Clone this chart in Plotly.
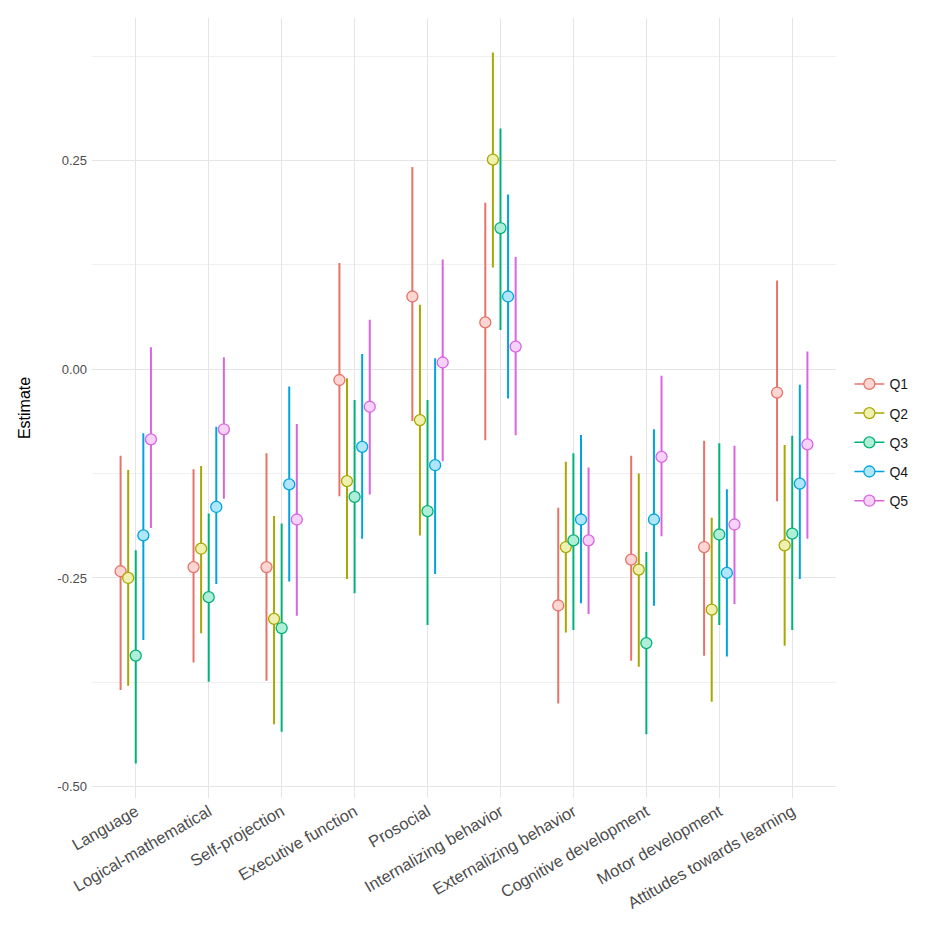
import plotly.graph_objects as go

categories = ["Language", "Logical-mathematical", "Self-projection", "Executive function",
              "Prosocial", "Internalizing behavior", "Externalizing behavior",
              "Cognitive development", "Motor development", "Attitudes towards learning"]
groups = ["Q1", "Q2", "Q3", "Q4", "Q5"]

est_q1 = [-0.242, -0.237, -0.237, -0.013, 0.087, 0.056, -0.283, -0.228, -0.213, -0.028]
lo_q1 = [-0.383, -0.350, -0.372, -0.151, -0.061, -0.084, -0.399, -0.348, -0.342, -0.157]
hi_q1 = [-0.105, -0.121, -0.102, 0.126, 0.241, 0.198, -0.167, -0.105, -0.087, 0.105]

est_q2 = [-0.250, -0.215, -0.299, -0.134, -0.061, 0.251, -0.213, -0.240, -0.288, -0.211]
lo_q2 = [-0.378, -0.315, -0.424, -0.250, -0.198, 0.123, -0.314, -0.355, -0.397, -0.330]
hi_q2 = [-0.122, -0.117, -0.177, -0.012, 0.076, 0.378, -0.112, -0.126, -0.179, -0.092]

est_q3 = [-0.343, -0.273, -0.310, -0.153, -0.170, 0.169, -0.205, -0.328, -0.198, -0.197]
lo_q3 = [-0.471, -0.373, -0.433, -0.267, -0.305, 0.048, -0.311, -0.436, -0.305, -0.311]
hi_q3 = [-0.218, -0.174, -0.186, -0.038, -0.038, 0.287, -0.102, -0.220, -0.090, -0.081]

est_q4 = [-0.199, -0.165, -0.138, -0.093, -0.115, 0.087, -0.180, -0.180, -0.244, -0.137]
lo_q4 = [-0.323, -0.256, -0.253, -0.202, -0.244, -0.034, -0.279, -0.282, -0.343, -0.250]
hi_q4 = [-0.078, -0.070, -0.022, 0.017, 0.012, 0.208, -0.080, -0.073, -0.145, -0.020]

est_q5 = [-0.084, -0.072, -0.180, -0.045, 0.008, 0.027, -0.205, -0.105, -0.186, -0.090]
lo_q5 = [-0.189, -0.154, -0.294, -0.149, -0.109, -0.078, -0.292, -0.199, -0.280, -0.202]
hi_q5 = [0.025, 0.013, -0.067, 0.058, 0.130, 0.133, -0.119, -0.009, -0.093, 0.020]

estimates = [est_q1, est_q2, est_q3, est_q4, est_q5]
lows = [lo_q1, lo_q2, lo_q3, lo_q4, lo_q5]
highs = [hi_q1, hi_q2, hi_q3, hi_q4, hi_q5]

line_colors = ["#E8736A", "#A8A800", "#00B377", "#00A5E0", "#D965E3"]
fill_colors = ["#FCD6D3", "#F0F0B0", "#B0EED8", "#B0E6F9", "#F6D2F9"]

font_family = "Liberation Sans, Arial, sans-serif"

fig = go.Figure()
for g, est, lo, hi, lc, fc in zip(groups, estimates, lows, highs, line_colors, fill_colors):
    fig.add_trace(go.Scatter(
        x=categories, y=est, mode="markers", name=g,
        offsetgroup=g, legendgroup=g, showlegend=False,
        marker=dict(size=11, color=fc, line=dict(color=lc, width=1.3)),
        error_y=dict(type="data", symmetric=False,
                     array=[h - e for h, e in zip(hi, est)],
                     arrayminus=[e - l for e, l in zip(est, lo)],
                     color=lc, thickness=2, width=1),
    ))
for g, lc, fc in zip(groups, line_colors, fill_colors):
    fig.add_trace(go.Scatter(
        x=[categories[0]], y=[None], mode="lines+markers", name=g,
        offsetgroup=g, legendgroup=g, showlegend=True,
        line=dict(color=lc, width=1.5),
        marker=dict(size=11, color=fc, line=dict(color=lc, width=1.3)),
    ))

fig.update_layout(
    width=945, height=926,
    margin=dict(l=84, r=117, t=10, b=136),
    paper_bgcolor="white", plot_bgcolor="white",
    scattermode="group", scattergap=0.48,
    font=dict(family=font_family, size=13, color="#4D4D4D"),
    legend=dict(x=1.018, y=0.456, xanchor="left", yanchor="middle",
                traceorder="grouped", tracegroupgap=8, itemwidth=30,
                font=dict(size=14, color="#1A1A1A")),
)
fig.update_xaxes(
    type="category", range=[-0.6, 9.6], automargin=False,
    showgrid=True, gridcolor="#E5E5E5", gridwidth=1.2,
    tickangle=-30, tickfont=dict(size=16.5, color="#4D4D4D"),
    showline=False, zeroline=False, ticks="",
)
fig.update_yaxes(
    range=[-0.5135, 0.4205], automargin=False,
    tickvals=[-0.5, -0.25, 0.0, 0.25], ticktext=["-0.50", "-0.25", "0.00", "0.25"],
    showgrid=True, gridcolor="#E5E5E5", gridwidth=1.2,
    minor=dict(tickvals=[-0.375, -0.125, 0.125, 0.375], showgrid=True,
               gridcolor="#F0F0F0", gridwidth=0.8),
    zeroline=False, showline=False, ticks="", ticklabelstandoff=4,
    tickfont=dict(size=13, color="#4D4D4D"),
    title=dict(text="Estimate", font=dict(size=16, color="#000000"), standoff=22),
)

fig.write_html("out.html")
